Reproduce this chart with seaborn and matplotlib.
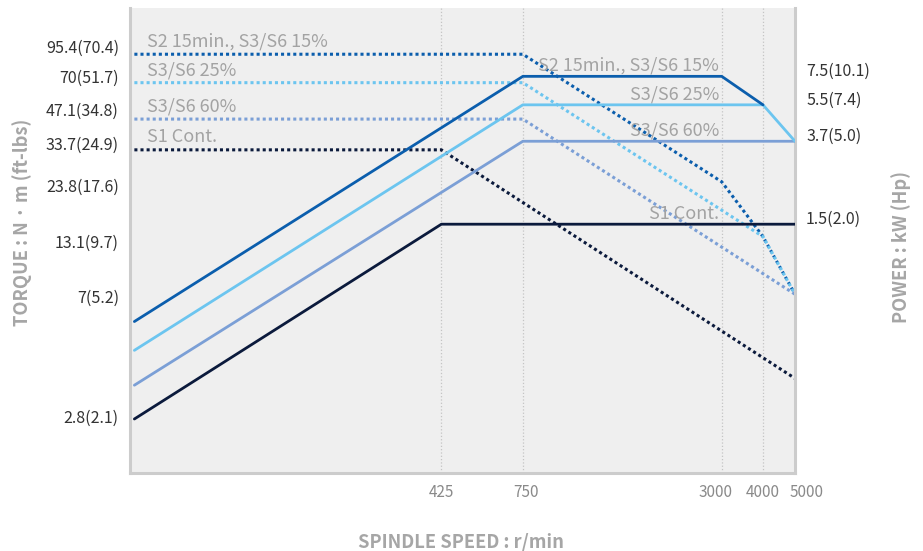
import matplotlib
matplotlib.use("Agg")
import matplotlib.pyplot as plt
from matplotlib.ticker import NullLocator
from matplotlib.transforms import ScaledTranslation
import seaborn as sns
import pandas as pd

# ---- data -------------------------------------------------------------
s2_speed = [50, 750, 3000, 4000, 5000]
s2_torque = [95.4, 95.4, 23.8, 13.1, 7.0]
s2_power_speed = [50, 750, 3000, 4000]
s2_power = [0.52, 7.5, 7.5, 5.5]

s25_speed = [50, 750, 4000, 5000]
s25_torque = [70.0, 70.0, 13.1, 7.0]
s25_power = [0.38, 5.5, 5.5, 3.7]

s60_speed = [50, 750, 5000]
s60_torque = [47.1, 47.1, 7.0]
s60_power = [0.26, 3.7, 3.7]

s1_speed = [50, 425, 5000]
s1_torque = [33.7, 33.7, 2.8]
s1_power = [0.18, 1.5, 1.5]

series_names = ["S2 15min., S3/S6 15%", "S3/S6 25%", "S3/S6 60%", "S1 Cont."]
series_colors = ["#0b5ead", "#6cc5ef", "#7b9fd6", "#0b1a3c"]

speed_ticks = [425, 750, 3000, 4000, 5000]
torque_ticks = [95.4, 70, 47.1, 33.7, 23.8, 13.1, 7, 2.8]
torque_tick_labels = ["95.4(70.4)", "70(51.7)", "47.1(34.8)", "33.7(24.9)",
                      "23.8(17.6)", "13.1(9.7)", "7(5.2)", "2.8(2.1)"]
power_ticks = [7.5, 5.5, 3.7, 1.5]
power_tick_labels = ["7.5(10.1)", "5.5(7.4)", "3.7(5.0)", "1.5(2.0)"]

# ---- style ------------------------------------------------------------
sns.set_theme(style="white")
plt.rcParams["font.family"] = ["Noto Sans CJK KR", "DejaVu Sans"]

W, H, DPI = 923, 551, 100
fig = plt.figure(figsize=(W / DPI, H / DPI), dpi=DPI)
ax = fig.add_axes([130 / W, 1 - 473 / H, 665 / W, 465 / H])
ax.set_facecolor("#efefef")
ax.set_xscale("log")
ax.set_yscale("log")
ax.set_xlim(48.5, 5000)
ax.set_ylim(1, 157.8)

ax2 = ax.twinx()
ax2.set_yscale("log")
ax2.set_ylim(0.1, 15.78)

dot = (0, (1, 1))

torque_sets = [(s2_speed, s2_torque), (s25_speed, s25_torque),
               (s60_speed, s60_torque), (s1_speed, s1_torque)]
power_sets = [(s2_power_speed, s2_power), (s25_speed, s25_power),
              (s60_speed, s60_power), (s1_speed, s1_power)]

for (sp, tq), col in zip(torque_sets, series_colors):
    df = pd.DataFrame({"speed": sp, "value": tq})
    sns.lineplot(data=df, x="speed", y="value", ax=ax, color=col,
                 linestyle=dot, linewidth=2.2, sort=False, zorder=3)

for (sp, pw), col in zip(power_sets[::-1], series_colors[::-1]):
    df = pd.DataFrame({"speed": sp, "value": pw})
    sns.lineplot(data=df, x="speed", y="value", ax=ax2, color=col,
                 linewidth=2.0, sort=False, zorder=4)

# series labels: left above torque lines, right above power lines
label_kw = dict(color="#a3a3a3", fontsize=13, va="center")
for name, (sp, tq) in zip(series_names, torque_sets):
    ax.annotate(name, xy=(54.5, tq[0]), xytext=(0, 9), textcoords="offset points",
                ha="left", **label_kw)
for name, (sp, pw) in zip(series_names, power_sets):
    ax2.annotate(name, xy=(3000, max(pw)), xytext=(-2, 7.5),
                 textcoords="offset points", ha="right", **label_kw)

# axes decorations
for a in (ax, ax2):
    a.set_xlabel("")
    a.set_ylabel("")
    a.yaxis.set_minor_locator(NullLocator())
    a.tick_params(length=0)
    for s in a.spines.values():
        s.set_visible(False)
ax.xaxis.set_minor_locator(NullLocator())

for side in ("left", "bottom"):
    ax.spines[side].set_visible(True)
    ax.spines[side].set_color("#cccccc")
    ax.spines[side].set_linewidth(2.2)
ax2.spines["right"].set_visible(True)
ax2.spines["right"].set_color("#cccccc")
ax2.spines["right"].set_linewidth(2.2)

ax.set_xticks(speed_ticks, labels=[str(v) for v in speed_ticks])
ax.tick_params(axis="x", pad=8, labelsize=11, labelcolor="#8a8a8a")
ax.grid(axis="x", linestyle=":", color="#c4c4c4", linewidth=0.9)
ax.grid(axis="y", visible=False)
ax2.grid(False)

ax.set_yticks(torque_ticks, labels=torque_tick_labels)
ax.tick_params(axis="y", pad=8, labelsize=11.5, labelcolor="#333333")
ax2.set_yticks(power_ticks, labels=power_tick_labels)
ax2.tick_params(axis="y", pad=8, labelsize=11.5, labelcolor="#333333")


def shift(lbl, dx_px, dy_px):
    lbl.set_transform(lbl.get_transform() +
                      ScaledTranslation(dx_px / DPI, dy_px / DPI, fig.dpi_scale_trans))


# hand-placed label nudges
y_nudges = [8, 6, 10, 6.5, -4, -4.5, -2.5, -38]
for lbl, dy in zip(ax.get_yticklabels(), y_nudges):
    shift(lbl, 0, dy)
for lbl in ax2.get_yticklabels():
    shift(lbl, 0, 7)
x_nudges = [0, 3, -6, 0, 12]
for lbl, dx in zip(ax.get_xticklabels(), x_nudges):
    shift(lbl, dx, 0)

title_kw = dict(color="#a6a6a6", fontsize=13.2, fontweight="bold",
                ha="center", va="center")
fig.text(461 / W, 1 - 542 / H, "SPINDLE SPEED : r/min", **title_kw)
fig.text(22 / W, 1 - 222 / H, "TORQUE : N · m (ft-lbs)", rotation=90, **title_kw)
fig.text(901 / W, 1 - 247 / H, "POWER : kW (Hp)", rotation=90, **title_kw)

fig.savefig("out.png", dpi=DPI)
